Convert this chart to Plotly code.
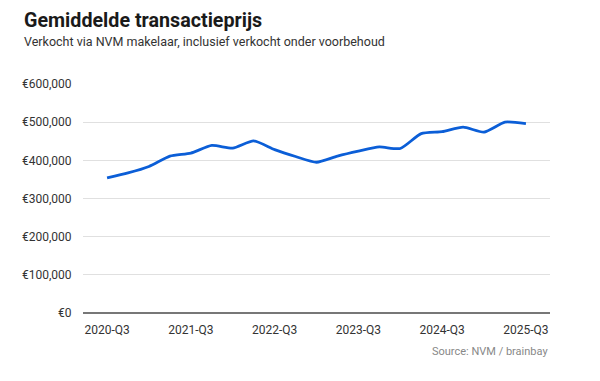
import plotly.graph_objects as go

quarters = ["2020-Q3", "2020-Q4", "2021-Q1", "2021-Q2", "2021-Q3", "2021-Q4",
            "2022-Q1", "2022-Q2", "2022-Q3", "2022-Q4", "2023-Q1", "2023-Q2",
            "2023-Q3", "2023-Q4", "2024-Q1", "2024-Q2", "2024-Q3", "2024-Q4",
            "2025-Q1", "2025-Q2", "2025-Q3"]
prices = [354000, 367000, 384000, 411000, 419000, 439000, 432000, 451000,
          428000, 410000, 395000, 411000, 424000, 435000, 431000, 470000,
          475000, 487000, 474000, 500000, 496000]
tick_labels = ["2020-Q3", "2021-Q3", "2022-Q3", "2023-Q3", "2024-Q3", "2025-Q3"]
y_ticks = [0, 100000, 200000, 300000, 400000, 500000, 600000]
y_labels = ["€0", "€100,000", "€200,000", "€300,000", "€400,000", "€500,000", "€600,000"]

x_idx = list(range(len(quarters)))
tick_pos = [quarters.index(t) for t in tick_labels]

fig = go.Figure()
fig.add_trace(go.Scatter(
    x=x_idx, y=prices, mode="lines",
    line=dict(color="#0b5ed7", width=2.8, shape="spline", smoothing=0.6),
    hoverinfo="skip", showlegend=False,
))

fig.update_layout(
    width=600, height=381,
    margin=dict(l=83, r=50, t=84, b=68),
    paper_bgcolor="white", plot_bgcolor="white",
    font=dict(family="Roboto", color="#333333", size=12),
    xaxis=dict(
        range=[-1.15, 21.15], tickmode="array", tickvals=tick_pos, ticktext=tick_labels,
        showgrid=False, zeroline=False, showline=False,
        ticks="outside", ticklen=6, tickcolor="rgba(0,0,0,0)",
        tickfont=dict(size=12, color="#333333"),
    ),
    yaxis=dict(
        range=[0, 600000], tickmode="array", tickvals=y_ticks, ticktext=y_labels,
        showgrid=True, gridcolor="#e0e0e0", gridwidth=1,
        zeroline=True, zerolinecolor="#777777", zerolinewidth=2,
        ticks="outside", ticklen=8, tickcolor="rgba(0,0,0,0)",
        tickfont=dict(size=12, color="#333333"),
        automargin=False,
    ),
    annotations=[
        dict(text="<b>Gemiddelde transactieprijs</b>", xref="paper", yref="paper",
             x=(22 - 83) / 467, y=(313 - 20) / 229, xanchor="left", yanchor="middle",
             showarrow=False, font=dict(family="Roboto", size=19.7, color="#1a1a1a")),
        dict(text="Verkocht via NVM makelaar, inclusief verkocht onder voorbehoud",
             xref="paper", yref="paper",
             x=(22 - 83) / 467, y=(313 - 41.5) / 229, xanchor="left", yanchor="middle",
             showarrow=False, font=dict(family="Roboto", size=12.5, color="#333333")),
        dict(text="Source: NVM / brainbay", xref="paper", yref="paper",
             x=1.0, y=(313 - 351.7) / 229, xanchor="right", yanchor="middle",
             showarrow=False, font=dict(family="Roboto", size=11, color="#888888")),
    ],
)

fig.write_html("out.html", config={"displayModeBar": False, "staticPlot": True},
               post_script="document.body.style.margin='0';")
